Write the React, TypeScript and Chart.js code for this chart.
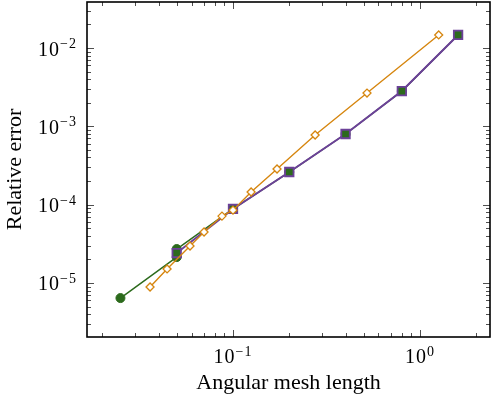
import React, { useEffect, useRef } from 'react';
import { Chart, registerables } from 'chart.js';

Chart.register(...registerables);

// ---- data ----
const orangeX = [0.036, 0.0444, 0.0589, 0.07, 0.0873, 0.1, 0.125, 0.172, 0.275, 0.521, 1.26];
const orangeY = [8.87e-6, 1.51e-5, 2.96e-5, 4.47e-5, 7.14e-5, 8.5e-5, 1.45e-4, 2.85e-4, 7.74e-4, 2.66e-3, 1.47e-2];

const purpleX = [0.05, 0.1, 0.2, 0.4, 0.8, 1.6];
const purpleY = [2.41e-5, 8.8e-5, 2.61e-4, 7.98e-4, 2.82e-3, 1.47e-2];

const greenX = [0.025, 0.05, 0.05, 0.1, 0.2, 0.4, 0.8, 1.6];
const greenY = [6.41e-6, 2.14e-5, 2.71e-5, 8.8e-5, 2.61e-4, 7.98e-4, 2.82e-3, 1.47e-2];

// ---- axes ----
const xMin = 0.01656;
const xMax = 2.37;
const yMin = 2.04e-6;
const yMax = 0.0387;

const xMajor = [0.1, 1];
const xMajorExp = ['\u22121', '0'];
const xMinor = [0.02, 0.03, 0.04, 0.05, 0.06, 0.07, 0.08, 0.09, 0.2, 0.3, 0.4, 0.5, 0.6, 0.7, 0.8, 0.9, 2];

const yMajor = [1e-5, 1e-4, 1e-3, 1e-2];
const yMajorExp = ['\u22125', '\u22124', '\u22123', '\u22122'];
const yMinor = [
  3e-6, 4e-6, 5e-6, 6e-6, 7e-6, 8e-6, 9e-6,
  2e-5, 3e-5, 4e-5, 5e-5, 6e-5, 7e-5, 8e-5, 9e-5,
  2e-4, 3e-4, 4e-4, 5e-4, 6e-4, 7e-4, 8e-4, 9e-4,
  2e-3, 3e-3, 4e-3, 5e-3, 6e-3, 7e-3, 8e-3, 9e-3,
  2e-2, 3e-2,
];

const xTitle = 'Angular mesh length';
const yTitle = 'Relative error';

const ORANGE = '#d6860f';
const PURPLE = '#6c4199';
const GREEN = '#2c6a1c';
const FONT = "'Liberation Serif', 'DejaVu Serif', serif";

const toPoints = (xs: number[], ys: number[]) => xs.map((x, i) => ({ x, y: ys[i] }));

const framePlugin = {
  id: 'frameTicks',
  afterDraw(chart: any) {
    const { ctx, chartArea: a, scales } = chart;
    const xs = scales.x;
    const ys = scales.y;
    const MAJ = 7;
    const MIN = 4;
    ctx.save();
    ctx.strokeStyle = '#222';
    ctx.lineWidth = 0.8;
    ctx.beginPath();
    const xTick = (v: number, len: number) => {
      const p = Math.round(xs.getPixelForValue(v)) + 0.5;
      if (p < a.left || p > a.right) return;
      ctx.moveTo(p, a.bottom);
      ctx.lineTo(p, a.bottom - len);
      ctx.moveTo(p, a.top);
      ctx.lineTo(p, a.top + len);
    };
    const yTick = (v: number, len: number) => {
      const p = Math.round(ys.getPixelForValue(v)) + 0.5;
      if (p < a.top || p > a.bottom) return;
      ctx.moveTo(a.left, p);
      ctx.lineTo(a.left + len, p);
      ctx.moveTo(a.right, p);
      ctx.lineTo(a.right - len, p);
    };
    xMinor.forEach((v) => xTick(v, MIN));
    xMajor.forEach((v) => xTick(v, MAJ));
    yMinor.forEach((v) => yTick(v, MIN));
    yMajor.forEach((v) => yTick(v, MAJ));
    ctx.stroke();

    ctx.strokeStyle = '#000';
    ctx.lineWidth = 1.6;
    ctx.strokeRect(a.left, a.top, a.right - a.left, a.bottom - a.top);

    // tick labels: 10 with superscript exponent
    ctx.fillStyle = '#000';
    ctx.textBaseline = 'alphabetic';
    const baseFont = `20px ${FONT}`;
    const expFont = `14px ${FONT}`;
    ctx.letterSpacing = '1px';
    xMajor.forEach((v, i) => {
      const p = xs.getPixelForValue(v);
      ctx.font = baseFont;
      const wb = ctx.measureText('10').width;
      ctx.font = expFont;
      const we = ctx.measureText(xMajorExp[i]).width;
      const left = p - (wb + we) / 2;
      ctx.font = baseFont;
      ctx.textAlign = 'left';
      ctx.fillText('10', left, a.bottom + 26);
      ctx.font = expFont;
      ctx.fillText(xMajorExp[i], left + wb, a.bottom + 19);
    });
    yMajor.forEach((v, i) => {
      const p = ys.getPixelForValue(v);
      const right = a.left - 10;
      ctx.font = expFont;
      const we = ctx.measureText(yMajorExp[i]).width;
      ctx.textAlign = 'left';
      ctx.fillText(yMajorExp[i], right - we, p);
      ctx.font = baseFont;
      ctx.textAlign = 'right';
      ctx.fillText('10', right - we, p + 7.5);
    });
    ctx.restore();
  },
};

export default function App() {
  const ref = useRef<HTMLCanvasElement | null>(null);

  useEffect(() => {
    if (!ref.current) return;
    Chart.defaults.font.family = FONT;
    const chart = new Chart(ref.current, {
      type: 'scatter',
      data: {
        datasets: [
          {
            label: 'orange',
            data: toPoints(orangeX, orangeY),
            showLine: true,
            borderColor: ORANGE,
            backgroundColor: '#ffffff',
            borderWidth: 1.4,
            pointStyle: 'rectRot',
            pointRadius: 4,
            pointBorderWidth: 1.3,
            pointBorderColor: ORANGE,
            pointBackgroundColor: '#ffffff',
          },
          {
            label: 'purple',
            data: toPoints(purpleX, purpleY),
            showLine: true,
            borderColor: PURPLE,
            backgroundColor: GREEN,
            borderWidth: 2,
            pointStyle: 'rect',
            pointRadius: 6,
            pointBorderWidth: 1.8,
            pointBorderColor: PURPLE,
            pointBackgroundColor: GREEN,
          },
          {
            label: 'green',
            data: toPoints(greenX, greenY),
            showLine: true,
            borderColor: GREEN,
            backgroundColor: GREEN,
            borderWidth: 1.5,
            pointStyle: 'circle',
            pointRadius: 4.5,
            pointBorderWidth: 1,
            pointBorderColor: GREEN,
            pointBackgroundColor: GREEN,
          },
        ],
      },
      options: {
        animation: false,
        responsive: true,
        maintainAspectRatio: false,
        events: [],
        layout: { autoPadding: false, padding: { top: 2, right: 3, left: 0, bottom: 0 } },
        plugins: { legend: { display: false }, tooltip: { enabled: false } },
        scales: {
          x: {
            type: 'logarithmic',
            min: xMin,
            max: xMax,
            grid: { display: false },
            border: { display: false },
            ticks: { display: false },
            title: {
              display: true,
              text: xTitle,
              color: '#000',
              font: { family: FONT, size: 22 },
              padding: { top: 0, bottom: 5.5 },
            },
            afterFit: (s: any) => {
              s.height = 65;
            },
          },
          y: {
            type: 'logarithmic',
            min: yMin,
            max: yMax,
            grid: { display: false },
            border: { display: false },
            ticks: { display: false },
            title: {
              display: true,
              text: yTitle,
              color: '#000',
              font: { family: FONT, size: 22 },
              padding: { top: 2, bottom: 0 },
            },
            afterFit: (s: any) => {
              s.width = 87;
            },
          },
        },
      },
      plugins: [framePlugin],
    });
    return () => chart.destroy();
  }, []);

  return (
    <div style={{ position: 'fixed', left: 0, top: 0, width: 493, height: 402, background: '#fff' }}>
      <canvas ref={ref} />
    </div>
  );
}
